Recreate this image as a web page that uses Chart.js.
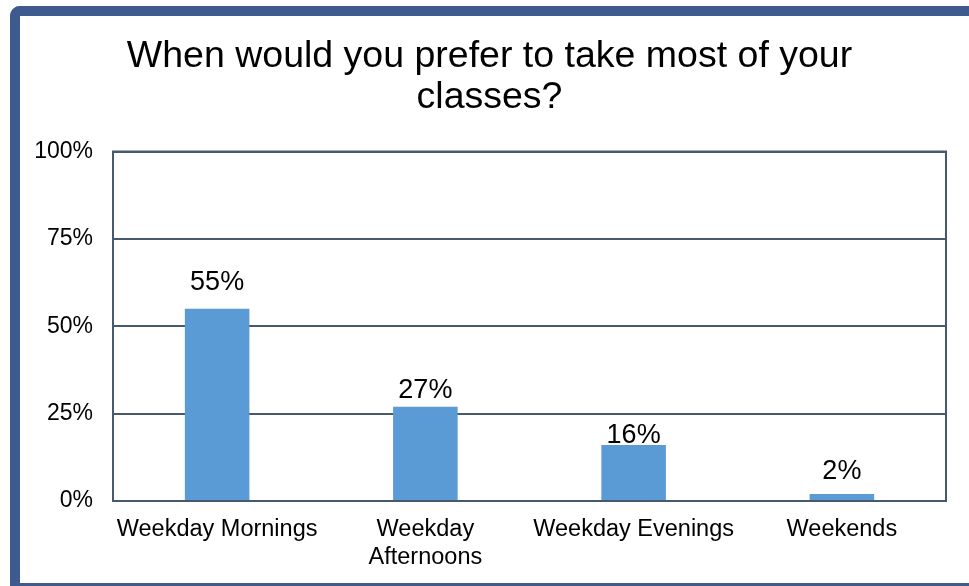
<!DOCTYPE html>
<html>
<head>
<meta charset="utf-8">
<script src="https://cdn.jsdelivr.net/npm/chart.js@4/dist/chart.umd.min.js"></script>
<style>
  html, body { margin: 0; padding: 0; background: #fff; overflow: hidden; }
  #wrap { position: relative; width: 969px; height: 586px; }
  #classChart { position: absolute; left: 0; top: 0; }
  #frame {
    position: absolute; left: 10px; top: 6px;
    width: 1200px; height: 567px;
    border: 10px solid #3E5A8E; border-right: none;
    border-top-left-radius: 10px;
    pointer-events: none;
  }
</style>
</head>
<body>
<div id="wrap">
  <canvas id="classChart" width="969" height="586"></canvas>
  <div id="frame"></div>
</div>
<script>
var categories = ['Weekday Mornings', ['Weekday', 'Afternoons'], 'Weekday Evenings', 'Weekends'];
var percentages = [55, 27, 16, 2];
var yTicks = [0, 25, 50, 75, 100];

// gap between each value label and the top of its bar
var labelGaps = [19, 9, 2, 15];

var fontFamily = "'Liberation Sans', Arial, sans-serif";
var lineColor = '#48586F';

// outline around the plot area
var plotFrame = {
    id: 'plotFrame',
    beforeDatasetsDraw: function (chart) {
        var a = chart.chartArea;
        var c = chart.ctx;
        c.save();
        c.strokeStyle = lineColor;
        c.lineWidth = 2;
        c.strokeRect(a.left, a.top, a.right - a.left, a.bottom - a.top);
        c.restore();
    }
};

// percentage written above each bar
var valueLabels = {
    id: 'valueLabels',
    afterDatasetsDraw: function (chart) {
        var c = chart.ctx;
        var meta = chart.getDatasetMeta(0);
        c.save();
        c.font = '27px ' + fontFamily;
        c.fillStyle = '#000';
        c.textAlign = 'center';
        c.textBaseline = 'alphabetic';
        meta.data.forEach(function (bar, i) {
            c.fillText(percentages[i] + '%', bar.x, bar.y - labelGaps[i]);
        });
        c.restore();
    }
};

var ctx = document.getElementById('classChart').getContext('2d');
var classChart = new Chart(ctx, {
    type: 'bar',
    data: {
        labels: categories,
        datasets: [{
            data: percentages,
            backgroundColor: '#5B9BD5',
            borderWidth: 0,
            barPercentage: 0.31,
            categoryPercentage: 1
        }]
    },
    options: {
        responsive: false,
        animation: false,
        layout: {
            padding: { left: 33, right: 23, top: 16, bottom: 0 }
        },
        plugins: {
            legend: { display: false },
            tooltip: { enabled: false },
            title: {
                display: true,
                text: ['When would you prefer to take most of your', 'classes?'],
                color: '#000',
                font: { family: fontFamily, size: 37.5, weight: 'normal', lineHeight: 1.1 },
                padding: { top: 20, bottom: 33 }
            }
        },
        scales: {
            x: {
                grid: { display: false, drawTicks: false },
                border: { display: false },
                ticks: {
                    color: '#000',
                    maxRotation: 0,
                    autoSkip: false,
                    padding: 15,
                    font: { family: fontFamily, size: 23.5, lineHeight: 1.18 }
                },
                afterFit: function (scale) { scale.height = 85; }
            },
            y: {
                min: 0,
                max: 100,
                grid: { color: lineColor, lineWidth: 2, drawTicks: false },
                border: { display: false },
                afterBuildTicks: function (scale) {
                    scale.ticks = yTicks.map(function (v) { return { value: v }; });
                },
                ticks: {
                    color: '#000',
                    padding: 20,
                    font: { family: fontFamily, size: 23 },
                    callback: function (v) { return v + '%'; }
                },
                afterFit: function (scale) { scale.width = 80; }
            }
        }
    },
    plugins: [plotFrame, valueLabels]
});
</script>
</body>
</html>
